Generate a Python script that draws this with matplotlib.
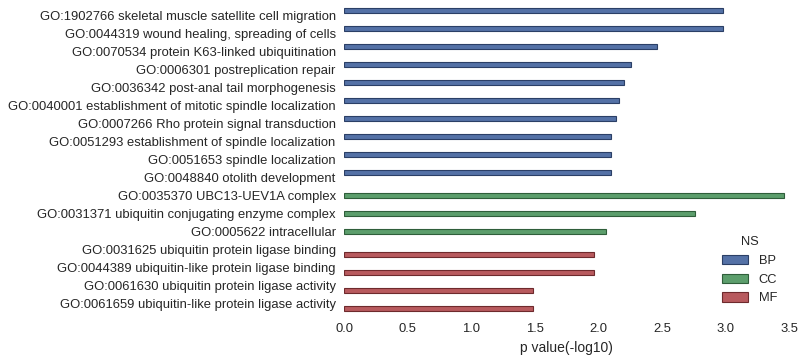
import numpy as np
import matplotlib
matplotlib.use("Agg")
import matplotlib.pyplot as plt
from matplotlib.patches import Patch

plt.rcParams['font.family'] = ['Liberation Sans', 'DejaVu Sans']

terms = [
    "GO:1902766 skeletal muscle satellite cell migration",
    "GO:0044319 wound healing, spreading of cells",
    "GO:0070534 protein K63-linked ubiquitination",
    "GO:0006301 postreplication repair",
    "GO:0036342 post-anal tail morphogenesis",
    "GO:0040001 establishment of mitotic spindle localization",
    "GO:0007266 Rho protein signal transduction",
    "GO:0051293 establishment of spindle localization",
    "GO:0051653 spindle localization",
    "GO:0048840 otolith development",
    "GO:0035370 UBC13-UEV1A complex",
    "GO:0031371 ubiquitin conjugating enzyme complex",
    "GO:0005622 intracellular",
    "GO:0031625 ubiquitin protein ligase binding",
    "GO:0044389 ubiquitin-like protein ligase binding",
    "GO:0061630 ubiquitin protein ligase activity",
    "GO:0061659 ubiquitin-like protein ligase activity",
]
ns = ["BP"] * 10 + ["CC"] * 3 + ["MF"] * 4
pvals = [2.98, 2.98, 2.46, 2.26, 2.20, 2.16, 2.14, 2.10, 2.10, 2.10,
         3.46, 2.76, 2.06,
         1.97, 1.97, 1.49, 1.49]

hue_order = ["BP", "CC", "MF"]
colors = {"BP": "#5471a6", "CC": "#5c9e6c", "MF": "#b85a5e"}
edges = {"BP": "#2b3f66", "CC": "#2f5e3a", "MF": "#6e2a2d"}

fig = plt.figure(figsize=(8.06, 3.62), dpi=100)
ax = fig.add_axes([0.4268, 0.1354, 0.5521, 0.848])

# seaborn-style dodge: each hue gets 0.8/3 of the slot
w = 0.8 / len(hue_order)
y = np.arange(len(terms))
for i, (n, v) in enumerate(zip(ns, pvals)):
    k = hue_order.index(n)
    off = -0.4 + w * (k + 0.5)
    ax.barh(y[i] + off, v, height=w, color=colors[n], edgecolor=edges[n],
            linewidth=0.8)

ax.set_yticks(y)
ax.set_yticklabels(terms)
ax.set_ylim(len(terms) - 0.5, -0.5)
ax.set_xlim(0, 3.5)
ax.set_xticks(np.arange(0, 3.51, 0.5))
ax.set_xticklabels(["%.1f" % v for v in np.arange(0, 3.51, 0.5)])
ax.tick_params(length=0, labelsize=9.4, colors="#262626")
ax.tick_params(axis="y", pad=6)
ax.tick_params(axis="x", pad=7.5)
ax.set_xlabel("p value(-log10)", fontsize=10, color="#262626", labelpad=4)
for s in ax.spines.values():
    s.set_visible(False)

handles = [Patch(facecolor=colors[h], edgecolor=edges[h], linewidth=0.8) for h in hue_order]
leg = ax.legend(handles, hue_order, title="NS", loc="lower right", frameon=False,
                fontsize=9.3, title_fontsize=9.3, handlelength=2.0, handleheight=0.75,
                labelspacing=0.5, handletextpad=0.85,
                bbox_to_anchor=(1.0, -0.01))
for txt in leg.get_texts():
    txt.set_color("#262626")
leg.get_title().set_color("#262626")

fig.savefig("out.png", dpi=100)
